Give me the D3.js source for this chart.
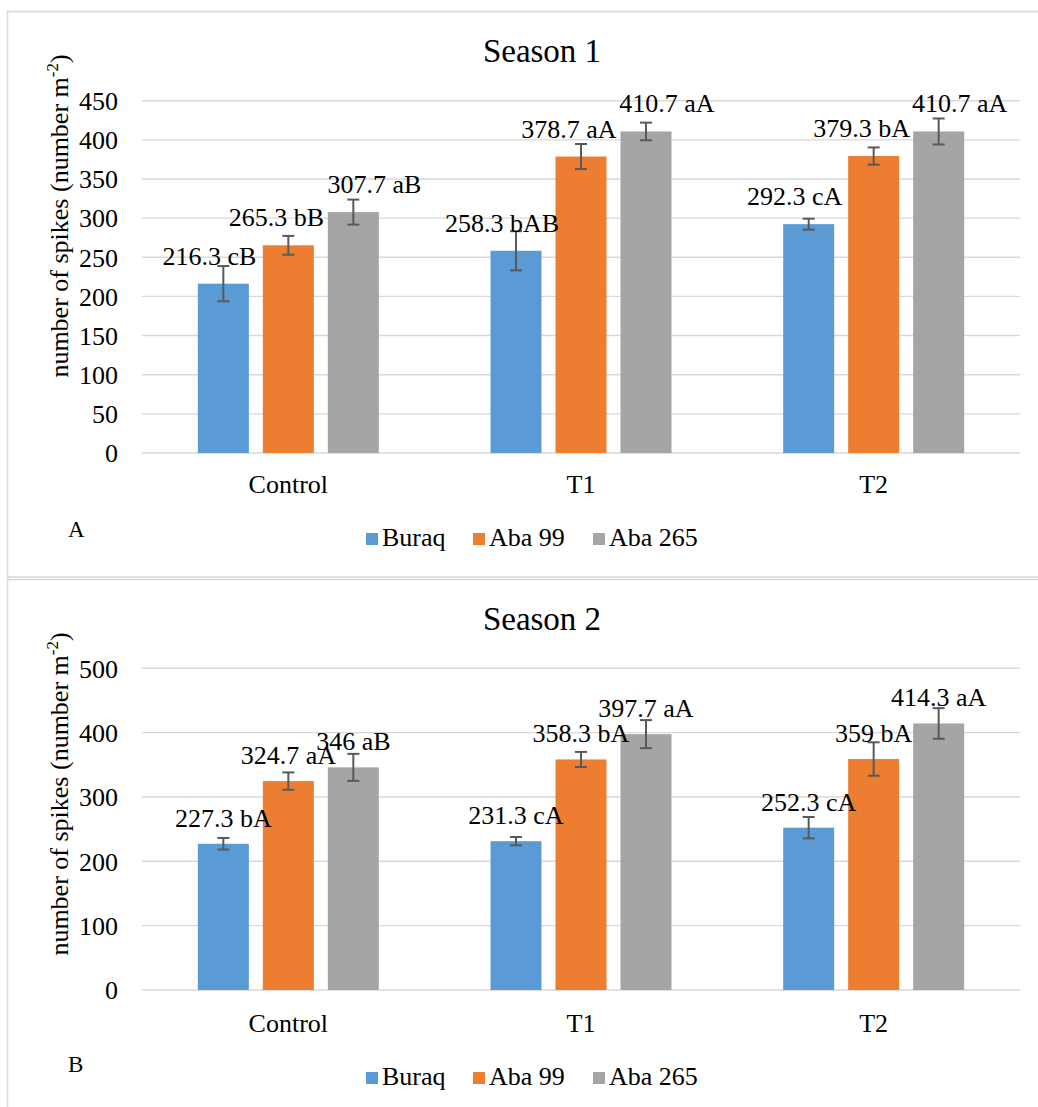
<!DOCTYPE html>
<html>
<head>
<meta charset="utf-8">
<script src="https://cdn.jsdelivr.net/npm/d3@7"></script>
<style>
  body { margin: 0; background: #fff; }
  svg { display: block; }
</style>
</head>
<body>
<div id="chart"></div>
<script>
/*
  two season bar charts, number of spikes per cultivar
  requires: d3
*/

var categories = ["Control", "T1", "T2"];
var series = ["Buraq", "Aba 99", "Aba 265"];
var colors = ["#5b9bd5", "#ed7d31", "#a5a5a5"];

// season 1
var s1Buraq = [216.3, 258.3, 292.3];
var s1Aba99 = [265.3, 378.7, 379.3];
var s1Aba265 = [307.7, 410.7, 410.7];
var s1ErrBuraq = [22.5, 25, 7];
var s1ErrAba99 = [12, 16, 11];
var s1ErrAba265 = [16, 11.3, 16.6];
var s1LetBuraq = ["cB", "bAB", "cA"];
var s1LetAba99 = ["bB", "aA", "bA"];
var s1LetAba265 = ["aB", "aA", "aA"];
var s1Ticks = [0, 50, 100, 150, 200, 250, 300, 350, 400, 450];

// season 2
var s2Buraq = [227.3, 231.3, 252.3];
var s2Aba99 = [324.7, 358.3, 359];
var s2Aba265 = [346, 397.7, 414.3];
var s2ErrBuraq = [9, 6.5, 16.6];
var s2ErrAba99 = [13.5, 11.7, 26];
var s2ErrAba265 = [21, 21.8, 23.8];
var s2LetBuraq = ["bA", "cA", "cA"];
var s2LetAba99 = ["aA", "bA", "bA"];
var s2LetAba265 = ["aB", "aA", "aA"];
var s2Ticks = [0, 100, 200, 300, 400, 500];

var FONT = "'Liberation Serif', 'DejaVu Serif', serif";

function rows(vals, errs, lets){
  var out = [];
  for(var c = 0; c < categories.length; c++){
    for(var s = 0; s < series.length; s++){
      out.push({cat: categories[c], ser: series[s], si: s,
                v: vals[s][c], e: errs[s][c], l: lets[s][c]});
    }
  }
  return out;
}

var W = 1038, H = 1107;
var svg = d3.select("#chart").append("svg").attr("width", W).attr("height", H)
            .attr("font-family", FONT);

var x0 = d3.scaleBand().domain(categories).range([142, 1020])
           .paddingInner(0.3816).paddingOuter(0.1908);
var x1 = d3.scaleBand().domain(series).range([0, x0.bandwidth()]).paddingInner(0.2154);

function panel(p){
  var g = svg.append("g");

  g.append("rect")
   .attr("x", 7.5).attr("y", p.top).attr("width", 1040).attr("height", p.h)
   .attr("fill", "#fff").attr("stroke", "#d9d9d9").attr("stroke-width", 1.6);

  var y = d3.scaleLinear().domain([0, p.max]).range([p.y0, p.y1]);

  // grid
  g.selectAll("line.grid").data(p.ticks).enter()
   .append("line").attr("class", "grid")
   .attr("x1", 142).attr("x2", 1020)
   .attr("y1", function(d){ return y(d); }).attr("y2", function(d){ return y(d); })
   .attr("stroke", "#d9d9d9").attr("stroke-width", 1.4);

  // y axis labels
  var ya = d3.axisLeft(y).tickValues(p.ticks).tickSize(0).tickPadding(0);
  var yg = g.append("g").attr("transform", "translate(118,0)").call(ya);
  yg.select(".domain").remove();
  yg.attr("font-family", FONT).attr("font-size", 26);
  yg.selectAll("text").attr("dy", "0.34em").attr("fill", "#000");

  // x axis labels
  var xa = d3.axisBottom(x0).tickSize(0).tickPadding(0);
  var xg = g.append("g").attr("transform", "translate(0," + p.catY + ")").call(xa);
  xg.select(".domain").remove();
  xg.attr("font-family", FONT).attr("font-size", 26);
  xg.selectAll("text").attr("dy", 0).attr("fill", "#000");

  var d = p.data;

  g.selectAll("rect.bar").data(d).enter()
   .append("rect").attr("class", "bar")
   .attr("x", function(r){ return x0(r.cat) + x1(r.ser); })
   .attr("width", x1.bandwidth())
   .attr("y", function(r){ return y(r.v); })
   .attr("height", function(r){ return y(0) - y(r.v); })
   .attr("fill", function(r){ return colors[r.si]; });

  // error bars
  var eb = g.selectAll("g.err").data(d).enter().append("g").attr("class", "err")
            .attr("stroke", "#595959").attr("stroke-width", 2);
  function cx(r){ return x0(r.cat) + x1(r.ser) + x1.bandwidth() / 2; }
  eb.append("line")
    .attr("x1", cx).attr("x2", cx)
    .attr("y1", function(r){ return y(r.v + r.e); })
    .attr("y2", function(r){ return y(r.v - r.e); });
  eb.append("line")
    .attr("x1", function(r){ return cx(r) - 6; }).attr("x2", function(r){ return cx(r) + 6; })
    .attr("y1", function(r){ return y(r.v + r.e); }).attr("y2", function(r){ return y(r.v + r.e); });
  eb.append("line")
    .attr("x1", function(r){ return cx(r) - 6; }).attr("x2", function(r){ return cx(r) + 6; })
    .attr("y1", function(r){ return y(r.v - r.e); }).attr("y2", function(r){ return y(r.v - r.e); });

  // value labels
  g.selectAll("text.val").data(d).enter()
   .append("text").attr("class", "val")
   .attr("x", function(r){ return cx(r) + p.dx[r.si]; })
   .attr("y", function(r){ return y(r.v) - p.dy; })
   .attr("text-anchor", "middle").attr("font-size", 26)
   .text(function(r){ return r.v + " " + r.l; });

  // title
  g.append("text").attr("x", 542).attr("y", p.titleY)
   .attr("text-anchor", "middle").attr("font-size", 33).text(p.title);

  // y axis title
  var at = g.append("text")
    .attr("transform", "translate(68," + p.axisMid + ") rotate(-90)")
    .attr("text-anchor", "middle").attr("font-size", 26);
  at.append("tspan").text("number of spikes (number m");
  at.append("tspan").attr("font-size", 17).attr("dy", -10).text("-2");
  at.append("tspan").attr("dy", 10).text(")");

  // panel letter
  g.append("text").attr("x", 68).attr("y", p.letterY).attr("font-size", 23).text(p.letter);

  // legend
  var lx = [366, 473, 593];
  var lg = g.selectAll("g.leg").data(series).enter().append("g").attr("class", "leg")
            .attr("transform", function(s, i){ return "translate(" + lx[i] + "," + p.legY + ")"; });
  lg.append("rect").attr("x", 0).attr("y", -13).attr("width", 12).attr("height", 12)
    .attr("fill", function(s, i){ return colors[i]; });
  lg.append("text").attr("x", 16).attr("y", 0).attr("font-size", 26).text(function(s){ return s; });
}

panel({
  top: 11.5, h: 565.5, max: 450, y0: 453, y1: 100.7, ticks: s1Ticks,
  data: rows([s1Buraq, s1Aba99, s1Aba265], [s1ErrBuraq, s1ErrAba99, s1ErrAba265],
             [s1LetBuraq, s1LetAba99, s1LetAba265]),
  catY: 493, titleY: 62, title: "Season 1", axisMid: 216, letter: "A", letterY: 537,
  legY: 546, dx: [-14, -12, 21], dy: 19
});

panel({
  top: 579.5, h: 540, max: 500, y0: 990, y1: 668.3, ticks: s2Ticks,
  data: rows([s2Buraq, s2Aba99, s2Aba265], [s2ErrBuraq, s2ErrAba99, s2ErrAba265],
             [s2LetBuraq, s2LetAba99, s2LetAba265]),
  catY: 1031.5, titleY: 630, title: "Season 2", axisMid: 794, letter: "B", letterY: 1072,
  legY: 1085, dx: [0, 0, 0], dy: 17
});

svg.selectAll("text").attr("font-family", FONT);
</script>
</body>
</html>
